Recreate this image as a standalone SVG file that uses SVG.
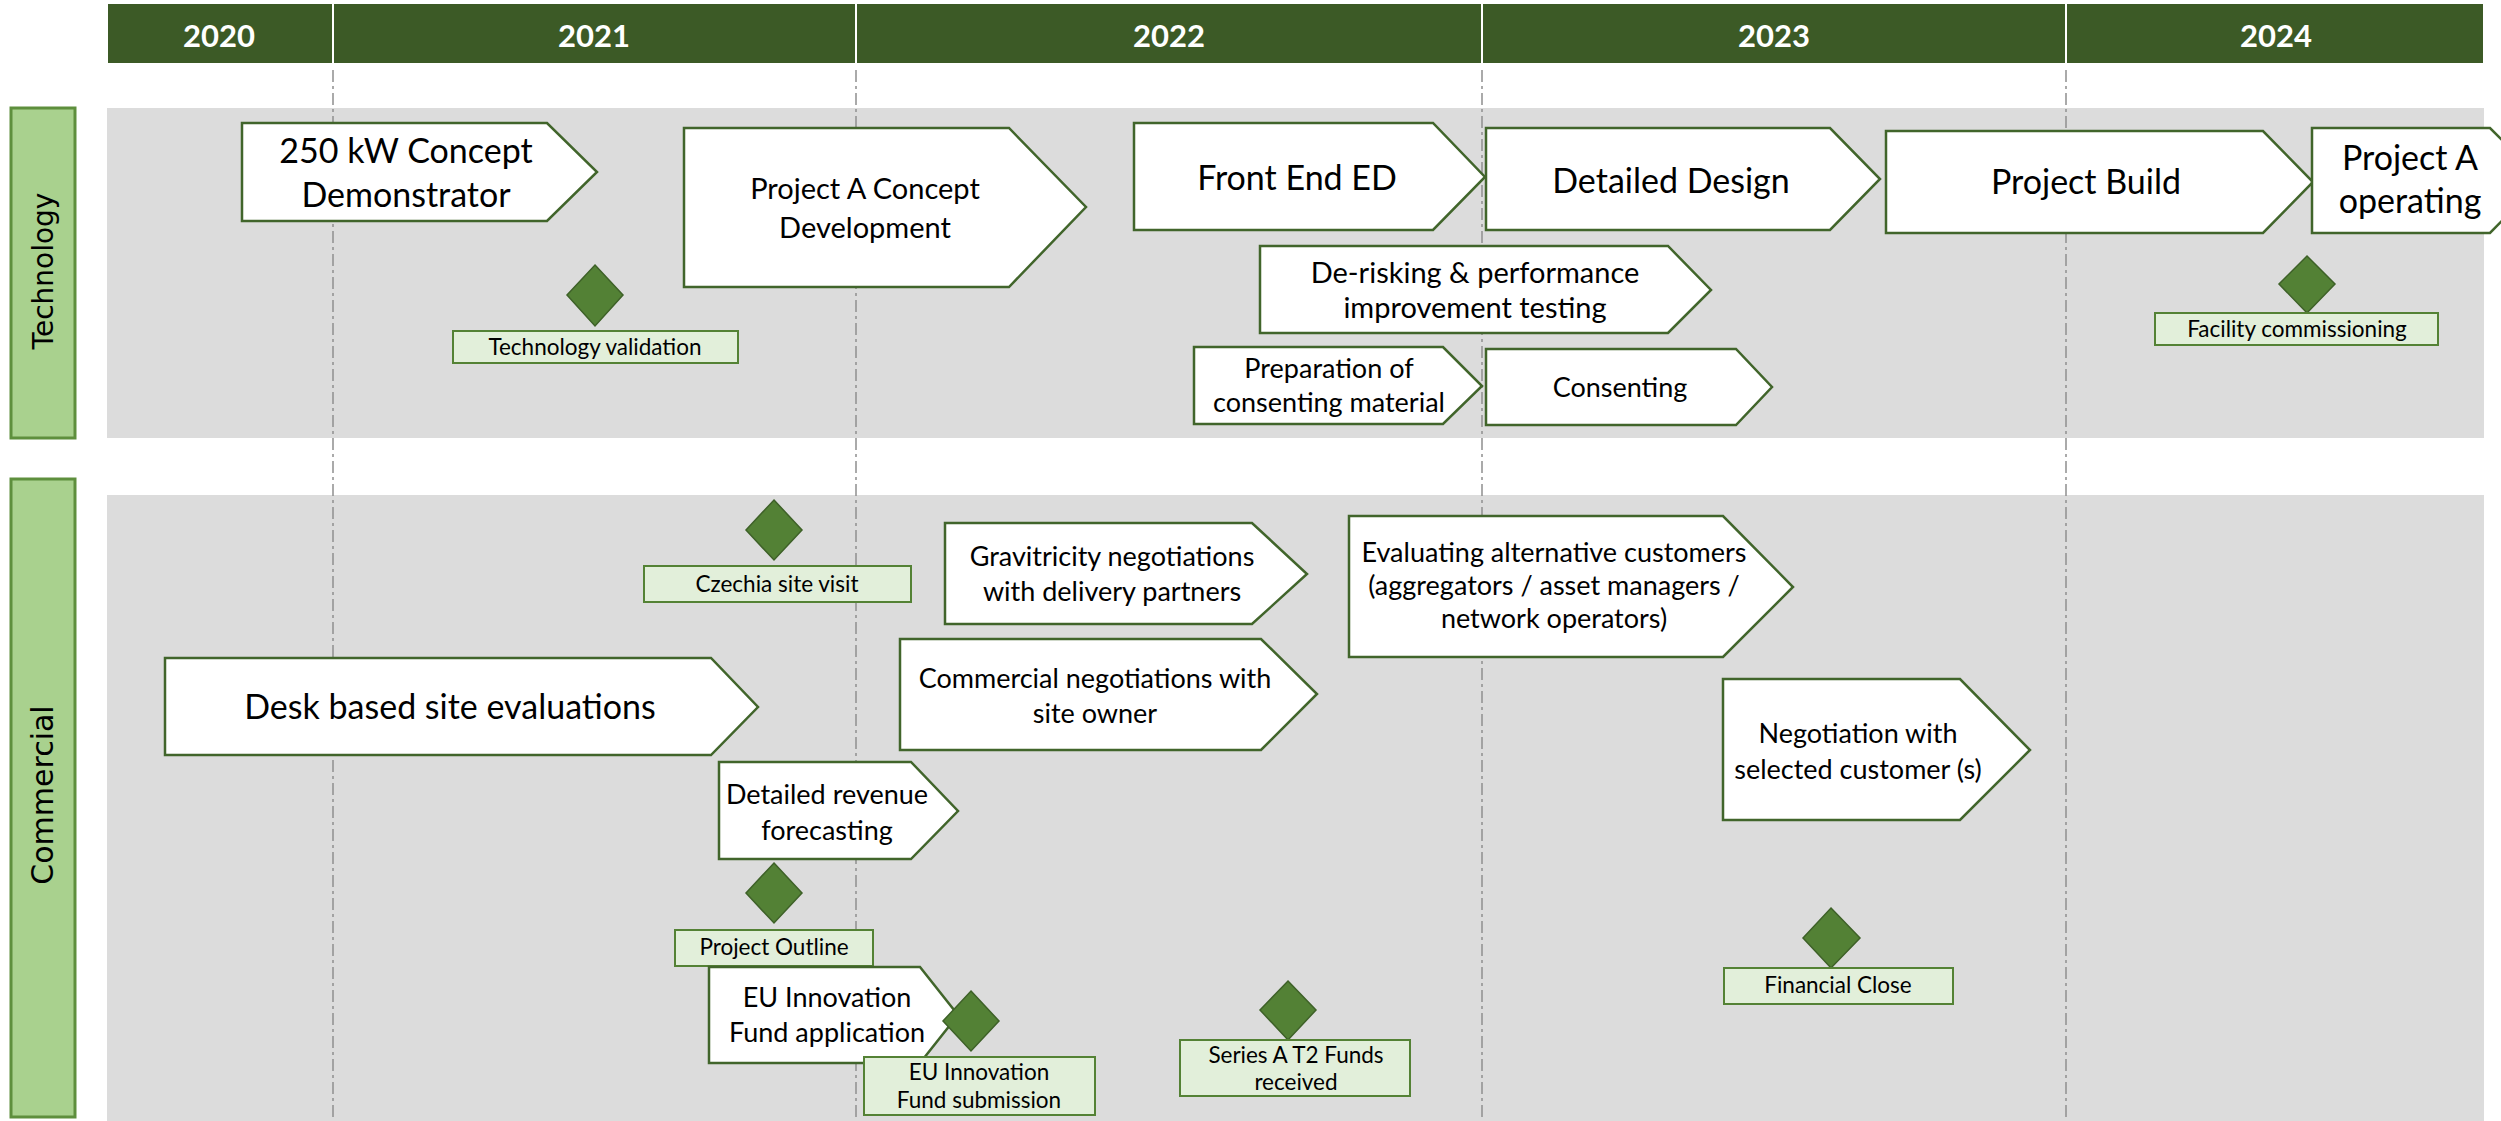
<svg xmlns="http://www.w3.org/2000/svg" width="2501" height="1121" viewBox="0 0 2501 1121">
<style>
.hdr{fill:#3C5A26;stroke:#ffffff;stroke-width:2}
.yr{font-family:Lato,"Liberation Sans",sans-serif;font-weight:bold;font-size:31px;fill:#ffffff;text-anchor:middle}
.band{fill:#DCDCDC}
.lane{fill:#A9D18E;stroke:#5E8F3D;stroke-width:3}
.lanet{font-family:"DejaVu Sans",sans-serif;fill:#000;text-anchor:middle}
.div{stroke:#8E8E8E;stroke-width:1.5;stroke-dasharray:12 4 3 4;fill:none}
.node{fill:#ffffff;stroke:#41652B;stroke-width:2.5;stroke-linejoin:miter}
.t{font-family:Lato,"Liberation Sans",sans-serif;fill:#000;text-anchor:middle}
.big{font-size:34px}
.mid{font-size:29px}
.sm{font-size:27px}
.ms{fill:#538135;stroke:#3E6128;stroke-width:1.5}
.lbl{fill:#E2EFDA;stroke:#548235;stroke-width:2}
.lt{font-family:Lato,"Liberation Sans",sans-serif;font-size:22.5px;fill:#000;text-anchor:middle}
</style>
<rect width="2501" height="1121" fill="#ffffff"/>
<g id="header">
<rect class="hdr" x="107" y="3" width="226" height="61"/>
<rect class="hdr" x="333" y="3" width="523" height="61"/>
<rect class="hdr" x="856" y="3" width="626" height="61"/>
<rect class="hdr" x="1482" y="3" width="584" height="61"/>
<rect class="hdr" x="2066" y="3" width="418" height="61"/>
<text class="yr" x="219" y="47">2020</text>
<text class="yr" x="594" y="47">2021</text>
<text class="yr" x="1169" y="47">2022</text>
<text class="yr" x="1774" y="47">2023</text>
<text class="yr" x="2276" y="47">2024</text>
</g>
<g id="bands">
<rect class="band" x="107" y="108" width="2377" height="330"/>
<rect class="band" x="107" y="495" width="2377" height="626"/>
</g>
<g id="lane-technology">
<rect class="lane" x="11" y="108" width="64" height="330"/>
<text class="lanet" font-size="28" transform="translate(53,271) rotate(-90)">Technology</text>
</g>
<g id="lane-commercial">
<rect class="lane" x="11" y="479" width="64" height="638"/>
<text class="lanet" font-size="30" transform="translate(53,795) rotate(-90)">Commercial</text>
</g>
<g id="connectors">
<line class="div" x1="333" y1="70" x2="333" y2="1121"/>
<line class="div" x1="856" y1="70" x2="856" y2="1121"/>
<line class="div" x1="1482" y1="70" x2="1482" y2="1121"/>
<line class="div" x1="2066" y1="70" x2="2066" y2="1121"/>
</g>
<g id="n-250kw">
<path class="node" d="M242,123 H547 L597,172 L547,221 H242 Z"/>
<text class="t big" x="406" y="163">250 kW Concept</text>
<text class="t big" x="406" y="207">Demonstrator</text>
</g>
<g id="n-projA-concept">
<path class="node" d="M684,128 H1009 L1086,207 L1009,287 H684 Z"/>
<text class="t mid" x="865" y="199">Project A Concept</text>
<text class="t mid" x="865" y="238">Development</text>
</g>
<g id="n-front-end">
<path class="node" d="M1134,123 H1433 L1485,177 L1433,230 H1134 Z"/>
<text class="t big" x="1297" y="190">Front End ED</text>
</g>
<g id="n-detailed-design">
<path class="node" d="M1486,128 H1830 L1880,179 L1830,230 H1486 Z"/>
<text class="t big" x="1671" y="193">Detailed Design</text>
</g>
<g id="n-project-build">
<path class="node" d="M1886,131 H2263 L2313,182 L2263,233 H1886 Z"/>
<text class="t big" x="2086" y="194">Project Build</text>
</g>
<g id="n-projA-operating">
<path class="node" d="M2312,128 H2490 L2542,180 L2490,233 H2312 Z"/>
<text class="t big" x="2410" y="170">Project A</text>
<text class="t big" x="2410" y="213">operating</text>
</g>
<g id="n-derisking">
<path class="node" d="M1260,246 H1668 L1711,290 L1668,333 H1260 Z"/>
<text class="t mid" x="1475" y="283">De-risking &amp; performance</text>
<text class="t mid" x="1475" y="318">improvement testing</text>
</g>
<g id="n-preparation">
<path class="node" d="M1194,347 H1443 L1482,386 L1443,424 H1194 Z"/>
<text class="t sm" x="1329" y="378">Preparation of</text>
<text class="t sm" x="1329" y="412">consenting material</text>
</g>
<g id="n-consenting">
<path class="node" d="M1486,349 H1736 L1772,387 L1736,425 H1486 Z"/>
<text class="t sm" x="1620" y="397">Consenting</text>
</g>
<g id="m-tech-validation">
<path class="ms" d="M595,265 L623,295 L595,326 L567,295 Z"/>
<rect class="lbl" x="453" y="331" width="285" height="32"/>
<text class="lt" x="595" y="355">Technology validation</text>
</g>
<g id="m-facility">
<path class="ms" d="M2307,256 L2335,284 L2307,313 L2279,284 Z"/>
<rect class="lbl" x="2155" y="313" width="283" height="32"/>
<text class="lt" x="2297" y="337">Facility commissioning</text>
</g>
<g id="m-czechia">
<path class="ms" d="M774,500 L802,530 L774,560 L746,530 Z"/>
<rect class="lbl" x="644" y="566" width="267" height="36"/>
<text class="lt" x="777" y="592">Czechia site visit</text>
</g>
<g id="n-gravitricity">
<path class="node" d="M945,523 H1252 L1307,574 L1252,624 H945 Z"/>
<text class="t sm" x="1112" y="566">Gravitricity negotiations</text>
<text class="t sm" x="1112" y="601">with delivery partners</text>
</g>
<g id="n-commercial-neg">
<path class="node" d="M900,639 H1261 L1317,694 L1261,750 H900 Z"/>
<text class="t sm" x="1095" y="688">Commercial negotiations with</text>
<text class="t sm" x="1095" y="723">site owner</text>
</g>
<g id="n-evaluating">
<path class="node" d="M1349,516 H1723 L1793,587 L1723,657 H1349 Z"/>
<text class="t sm" x="1554" y="562">Evaluating alternative customers</text>
<text class="t sm" x="1554" y="595">(aggregators / asset managers /</text>
<text class="t sm" x="1554" y="628">network operators)</text>
</g>
<g id="n-negotiation">
<path class="node" d="M1723,679 H1960 L2030,750 L1960,820 H1723 Z"/>
<text class="t sm" x="1858" y="743">Negotiation with</text>
<text class="t sm" x="1858" y="779">selected customer (s)</text>
</g>
<g id="n-desk">
<path class="node" d="M165,658 H711 L758,707 L711,755 H165 Z"/>
<text class="t big" x="450" y="719">Desk based site evaluations</text>
</g>
<g id="n-revenue">
<path class="node" d="M719,762 H911 L958,811 L911,859 H719 Z"/>
<text class="t sm" x="827" y="804">Detailed revenue</text>
<text class="t sm" x="827" y="840">forecasting</text>
</g>
<g id="m-project-outline">
<path class="ms" d="M774,863 L802,893 L774,923 L746,893 Z"/>
<rect class="lbl" x="675" y="930" width="198" height="36"/>
<text class="lt" x="774" y="955">Project Outline</text>
</g>
<g id="n-eu-application">
<path class="node" d="M709,967 H920 L958,1015 L920,1063 H709 Z"/>
<text class="t sm" x="827" y="1007">EU Innovation</text>
<text class="t sm" x="827" y="1042">Fund application</text>
</g>
<g id="m-eu-submission">
<path class="ms" d="M971,991 L999,1021 L971,1051 L943,1021 Z"/>
<rect class="lbl" x="864" y="1057" width="231" height="58"/>
<text class="lt" x="979" y="1080">EU Innovation</text>
<text class="lt" x="979" y="1108">Fund submission</text>
</g>
<g id="m-series-a">
<path class="ms" d="M1288,981 L1316,1010 L1288,1040 L1260,1010 Z"/>
<rect class="lbl" x="1180" y="1040" width="230" height="56"/>
<text class="lt" x="1296" y="1063">Series A T2 Funds</text>
<text class="lt" x="1296" y="1090">received</text>
</g>
<g id="m-financial-close">
<path class="ms" d="M1831,908 L1860,938 L1831,968 L1803,938 Z"/>
<rect class="lbl" x="1724" y="968" width="229" height="36"/>
<text class="lt" x="1838" y="993">Financial Close</text>
</g>
</svg>
